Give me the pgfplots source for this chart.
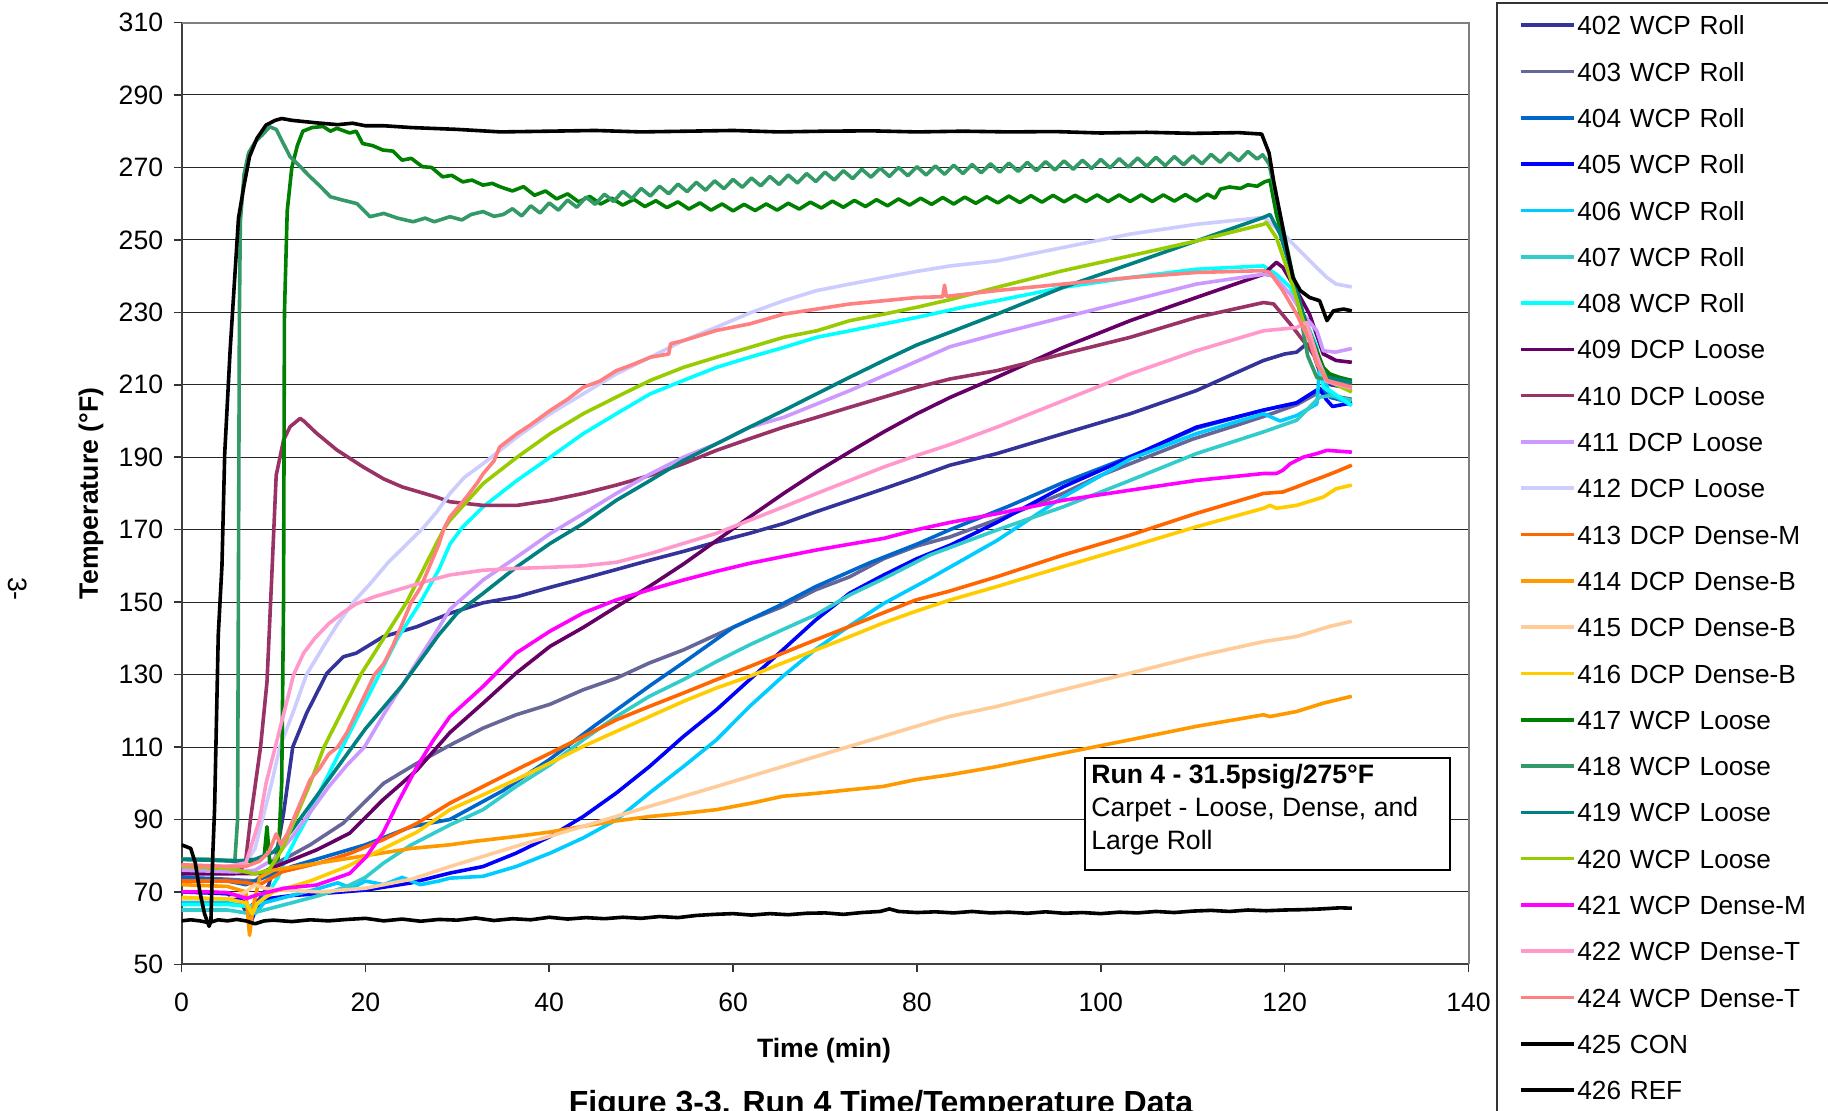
\documentclass[border=0pt]{standalone}
\usepackage{fontspec}
\setmainfont{Liberation Sans}
\usepackage{pgfplots}
\pgfplotsset{compat=1.18}
\newcommand\fnt{\fontsize{13.3bp}{16bp}\selectfont}
\newcommand\lfnt{\fontsize{13.1bp}{16bp}\selectfont}
\definecolor{c402}{HTML}{333399}
\definecolor{c403}{HTML}{666699}
\definecolor{c404}{HTML}{0066CC}
\definecolor{c405}{HTML}{0000FF}
\definecolor{c406}{HTML}{00CCFF}
\definecolor{c407}{HTML}{33CCCC}
\definecolor{c408}{HTML}{00FFFF}
\definecolor{c409}{HTML}{660066}
\definecolor{c410}{HTML}{993366}
\definecolor{c411}{HTML}{CC99FF}
\definecolor{c412}{HTML}{CCCCFF}
\definecolor{c413}{HTML}{FF6600}
\definecolor{c414}{HTML}{FF9900}
\definecolor{c415}{HTML}{FFCC99}
\definecolor{c416}{HTML}{FFCC00}
\definecolor{c417}{HTML}{008000}
\definecolor{c418}{HTML}{339966}
\definecolor{c419}{HTML}{008080}
\definecolor{c420}{HTML}{99CC00}
\definecolor{c421}{HTML}{FF00FF}
\definecolor{c422}{HTML}{FF99CC}
\definecolor{c424}{HTML}{FF8080}
\begin{document}
\begin{tikzpicture}[x=0.5bp,y=-0.5bp]
\useasboundingbox (0,0) rectangle (1828,1110);
\begin{axis}[
  at={(90.75bp,-482.15bp)}, anchor=south west,
  scale only axis, width=643.5bp, height=470.9bp,
  xmin=0, xmax=140, ymin=50, ymax=310,
  xtick={0,20,...,140}, ytick={50,70,...,310},
  tick align=outside, major tick length=4bp,
  xtick pos=bottom, ytick pos=left,
  tick style={black!80, line width=0.8bp},
  axis x line*=bottom, axis y line*=left,
  axis line style={-, black!75, line width=1bp},
  ymajorgrids, grid style={black!85, line width=0.5bp},
  /pgf/number format/assume math mode=true,
  ticklabel style={font=\fnt},
  yticklabel style={anchor=east, inner sep=0pt, xshift=-5bp},
  xticklabel style={anchor=north, inner sep=0pt, text height=9.5bp, text depth=0pt, yshift=-10bp},
  xlabel={\bfseries Time (min)}, ylabel={\bfseries Temperature (°F)},
  label style={font=\fnt},
  xlabel style={at={(axis description cs:0.4992,-0.0915)}, anchor=center},
  ylabel style={at={(axis description cs:-0.0703,0.5)}, anchor=center},
  no markers,
  every axis plot/.append style={line width=1.8bp, line join=round},
  extra description/.code={\draw[gray, line width=1bp] (rel axis cs:0,1) -- (rel axis cs:1,1) -- (rel axis cs:1,0);},
  legend style={at={(1.02137,1.02177)}, anchor=north west, draw=black!80, line width=0.75bp, fill=white,
    inner xsep=11bp, inner ysep=6.45bp, font=\lfnt, cells={anchor=west}, row sep=13.55bp,
    nodes={inner sep=0pt, text height=9.6bp, text depth=0pt, text width=150bp, align=left},
    /tikz/every odd column/.style={column sep=1bp}},
  legend image code/.code={\draw[#1, line width=1.8bp] (0bp,0bp) -- (26.5bp,0bp);},
]
% 402
\addplot[c402] coordinates {(0,70)(3,70)(5,69.5)(6.5,67)(7,64.5)(7.5,66)(8.5,68)(9.5,72)(10.3,80)(11.1,91.7)(12.1,110)(13.6,119.3)(15.8,130.3)(17.6,134.9)(19,135.9)(21.9,140.4)(25.6,143.2)(29.2,146.9)(32.8,149.8)(36.5,151.5)(40,154)(43.7,156.5)(47.3,159)(51,161.6)(54.6,164)(58.2,166.6)(61.8,169)(65.5,171.7)(69.1,175)(72.7,178.1)(76.4,181.3)(80,184.5)(83.6,187.8)(88.7,191)(95.9,196.5)(103.2,202)(110.4,208.4)(114,212.5)(117.7,216.7)(120,218.5)(121.3,219)(122.4,221.3)(123.2,218)(124,212)(125,210)(127.3,209)};
\addlegendentry{402 WCP Roll}
% 403
\addplot[c403] coordinates {(0,74)(5,73.5)(8,73)(10.4,78)(14,83)(17.6,89)(20,95)(22,100)(25.6,105.5)(29.2,110.5)(32.8,115.2)(36.4,118.9)(40.1,121.8)(43.7,125.8)(47.3,129)(50.9,133.2)(54.6,136.8)(58.2,141)(61.8,145.1)(65.4,148.8)(69,153.4)(72.7,157)(76.4,162)(80,165.5)(83.6,168)(90,174)(95.9,180)(100,185)(105,190)(110,195)(115,199)(118,201.5)(121.3,204.5)(123.8,208)(125,207)(127.3,206)};
\addlegendentry{403 WCP Roll}
% 404
\addplot[c404] coordinates {(0,74)(4,73.5)(7,72)(9,74)(12,77)(16,80)(20,83)(25,88)(29.2,90)(35,98)(40,106.5)(45,116)(51,127)(55,134)(60,143)(65,149)(69,154.3)(75,161)(80,166)(83.6,170)(90,176.5)(95.9,183)(100,187)(105,192)(110.4,198)(117.7,203)(121.3,205)(123.8,209)(125,206.5)(127.3,205)};
\addlegendentry{404 WCP Roll}
% 405
\addplot[c405] coordinates {(0,70)(5,69.5)(7,67)(7.6,62)(8.2,66)(9,68)(12,69)(15,69.5)(20,70.5)(25,72.5)(29.2,75.2)(32.8,77)(36.4,80.7)(40.1,85.3)(43.7,90.8)(47.3,97.3)(50.9,104.6)(54.6,112.9)(58.2,120.3)(61.8,128.6)(65.4,136.8)(69,145.1)(72.7,152.5)(76.4,157.5)(80,162)(83.6,165.7)(88.7,172)(95.9,181.8)(103.2,190)(110.4,198.3)(117.7,203)(121.3,205)(123.8,209)(124.5,206)(125.2,204)(127.3,205)};
\addlegendentry{405 WCP Roll}
% 406
\addplot[c406] coordinates {(0,67)(5,67)(7,66)(8,64)(9,67)(12,69)(15,71)(17,72.5)(18.5,71)(20,73)(22,72)(24,74)(26,72)(28,73)(29.2,73.8)(32.8,74.3)(36.4,77)(40.1,80.7)(43.7,84.9)(47.3,89.9)(50.9,97.3)(54.6,104.6)(58.2,112)(61.8,121.2)(65.4,129.5)(69,137)(72.7,143.5)(76.3,149.5)(81.4,156.5)(88.7,167)(95.9,179)(103.2,189.5)(110.4,196.5)(117.7,202)(119.5,200)(121.3,201.5)(123.5,204.7)(123.8,214.8)(124.9,207.6)(127.3,204.3)};
\addlegendentry{406 WCP Roll}
% 407
\addplot[c407] coordinates {(0,65)(5,65)(7.5,64)(9,65)(12,67)(15,69)(18,71.5)(20,74)(22,78)(25,83)(29.2,88.5)(32.8,92.7)(36.4,99.1)(40.1,105.1)(43.7,112)(47.3,118.4)(50.9,124)(54.6,128.6)(58.2,133.6)(61.8,138.2)(65.4,142.4)(69,146.5)(72.7,152)(76.4,156.5)(81.4,163)(88.7,169.9)(95.9,176.3)(103.2,183.6)(110.4,191)(117.7,197)(121.3,200.2)(123.8,206.6)(125,207)(127.3,205.7)};
\addlegendentry{407 WCP Roll}
% 408
\addplot[c408] coordinates {(0,66.5)(5,66.5)(7.5,66)(8.5,67)(9.5,70)(10.5,74)(11.5,80)(12.5,85)(13.6,90)(15.5,100)(17.5,110)(19.5,120)(21.5,130)(23.5,140)(26,150)(28,159)(29.2,166)(30.5,170.5)(32.8,176.3)(36.5,183.6)(40.1,190)(43.7,196.5)(47.3,202)(51,207.5)(54.6,211.2)(58.2,214.8)(61.8,217.6)(65.5,220.3)(69.1,223.1)(72.7,224.9)(76.4,226.8)(80,228.6)(85,231.4)(88.7,233.2)(95.9,236.9)(103.2,239.6)(110.4,241.9)(117.7,242.8)(119.1,240.5)(120.6,236.9)(122,229.5)(123.5,220.3)(124.2,209.3)(124.9,208.4)(127.3,204.3)};
\addlegendentry{408 WCP Roll}
% 409
\addplot[c409] coordinates {(0,75)(5,75)(8.5,75.1)(11.1,77.9)(14.7,81.6)(18.3,86.2)(21.9,95.4)(25.6,103.6)(29.2,114)(32.8,122.1)(36.4,130.4)(40.1,137.8)(43.7,143)(47.3,148.7)(51,154.5)(54.6,160.5)(58.2,167)(61.8,173.5)(65.5,180)(69.1,186)(72.7,191.5)(76.4,197)(80,202)(83.6,206.5)(88.7,212.1)(95.9,220.3)(103.2,227.7)(110.4,234.1)(117.7,240.5)(119.1,243.8)(119.8,242.4)(121.3,236)(122.7,229.5)(124.2,218.5)(125.6,216.7)(127.3,216.2)};
\addlegendentry{409 DCP Loose}
% 410
\addplot[c410] coordinates {(0,76)(6.5,76)(7,79)(7.5,90)(8.6,110)(9.3,128)(9.8,156)(10.3,185)(11.1,194.7)(11.8,198.4)(12.9,200.7)(13.3,200)(14.7,196.6)(16.9,192)(19.7,187.4)(22,184)(24,181.8)(27.6,179.1)(29.2,177.7)(32.8,176.7)(36.5,176.7)(40.1,178.1)(43.7,180)(47.3,182.3)(51,185)(54.6,188.2)(58.2,191.9)(61.8,195.1)(65.5,198.3)(69.1,201)(72.7,203.8)(76.4,206.6)(80,209.3)(83.6,211.6)(88.7,213.9)(95.9,218.5)(103.2,223.1)(110.4,228.6)(117.7,232.7)(118.8,232.3)(120.6,226.8)(122,222.2)(123.5,217.6)(124.6,213)(127.3,210.2)};
\addlegendentry{410 DCP Loose}
% 411
\addplot[c411] coordinates {(0,76)(6,75.5)(8,76)(10,79)(12,85)(14,92)(16,99)(18,105)(19.9,110)(22,119)(24,127)(26,135)(28,143)(29.2,148)(32.8,156.1)(36.5,162.5)(40.1,168.9)(43.7,174.4)(47.3,180)(51,185.4)(54.6,190)(58.2,193.7)(61.8,198.3)(65.5,201)(69.1,204.7)(72.7,208.4)(76.4,212.5)(80,216.5)(83.6,220.5)(88.7,224)(95.9,228.6)(103.2,233.2)(110.4,237.8)(117.7,240.5)(118.8,240)(120.6,235)(122,229.5)(123.5,224.9)(124.2,219.4)(125.5,219)(127.3,220)};
\addlegendentry{411 DCP Loose}
% 412
\addplot[c412] coordinates {(0,77)(5,77)(7,78)(8,82)(8.8,90)(9.8,100)(10.7,110)(12.2,120)(13.6,130)(15.5,138)(17,144)(18.7,150)(20.5,155)(22.5,161)(24.5,166)(26.3,170.5)(27.8,175)(29.2,180)(30.8,184.5)(32.8,188.2)(36.5,195.6)(40.1,202)(43.7,207.5)(47.3,213)(51,217.6)(54.6,222.2)(58.2,225.9)(61.8,229.8)(65.5,233.2)(69.1,236)(72.7,237.8)(76.4,239.6)(80,241.3)(83.6,242.8)(88.7,244.2)(95.9,247.9)(103.2,251.6)(110.4,254.3)(117.7,256.2)(119.5,252.5)(121.3,247.9)(123.1,243.3)(124.6,239.6)(125.6,237.8)(127.3,237)};
\addlegendentry{412 DCP Loose}
% 413
\addplot[c413] coordinates {(0,73)(5,73)(7,72.5)(8.5,72)(11,75.6)(15,78)(18.3,80.6)(22,84.5)(25.6,88.9)(29.2,94.5)(32.8,99.1)(36.4,103.7)(40.1,108.3)(43.7,112.9)(47.3,117.5)(50.9,121.2)(54.6,124.9)(58.2,128.6)(61.8,132.2)(65.4,135.9)(69,139.6)(72.7,143.3)(76.3,147)(79.9,150.6)(83.5,153)(88.7,157)(95.9,163)(103.2,168.5)(110.4,174.5)(117.7,180)(119.8,180.4)(121.3,181.8)(122.7,183.2)(124.2,184.6)(125.6,186)(127.3,187.8)};
\addlegendentry{413 DCP Dense-M}
% 414
\addplot[c414] coordinates {(0,72)(5,71.5)(7,70)(7.4,58)(7.8,66)(8.5,74)(10,76)(15,78)(20,80)(25,82)(29.2,83)(32,84)(36.4,85.3)(40,86.5)(43.7,88.1)(47,89.5)(50.9,90.8)(55,91.8)(58.2,92.7)(62,94.5)(65.4,96.4)(69,97.2)(72.7,98.2)(76.3,99.1)(79.9,101)(83.5,102.3)(88.7,104.6)(95.9,108.3)(103.2,112)(110.4,115.7)(117.7,118.9)(118.4,118.4)(121.3,119.8)(124.2,122.1)(127.3,124)};
\addlegendentry{414 DCP Dense-B}
% 415
\addplot[c415] coordinates {(0,68)(5,68)(7,70)(8,72)(9,71)(11,70.5)(15,70)(20,71)(25,73.5)(29.2,77)(36.4,82.6)(43.7,88.1)(50.9,93.6)(58.2,99.1)(65.4,104.6)(72.7,110.2)(79.9,115.7)(83.5,118.4)(88.7,121.2)(95.9,125.8)(103.2,130.4)(110.4,135)(117.7,139.1)(121.3,140.5)(124.9,143.3)(127.3,144.7)};
\addlegendentry{415 DCP Dense-B}
% 416
\addplot[c416] coordinates {(0,68.5)(5,68)(7,67)(7.7,64)(8.3,67)(10,70)(14,73)(18,77)(22,82)(25.6,86.5)(29.2,92.7)(32.8,96.8)(36.4,101)(40.1,105.6)(43.7,110.2)(47.3,114.3)(50.9,118.4)(54.6,122.6)(58.2,126.3)(61.8,129.5)(65.4,133.2)(69,136.8)(72.7,140.5)(76.3,144.2)(79.9,147.5)(83.5,150.5)(88.7,154.3)(95.9,159.8)(103.2,165.3)(110.4,170.8)(117.7,175.9)(118.4,176.7)(119.1,175.9)(121.3,176.7)(124.2,179)(125.6,181.3)(127.3,182.3)};
\addlegendentry{416 DCP Dense-B}
% 417
\addplot[c417] coordinates {(0,79)(8,78.5)(9,80)(9.3,88)(9.6,78)(10.5,79)(10.9,100)(11.1,150)(11.2,230)(11.5,258)(12,270)(12.6,276)(13.2,280)(14.2,281)(15.4,281.3)(16.2,280)(16.9,280.8)(18.3,279.5)(19,280)(19.7,276.6)(20.8,276)(21.9,274.8)(23,274.5)(24,272)(25,272.5)(26.2,270.2)(27.2,270)(28.4,267.4)(29.4,267.8)(30.6,266)(31.6,266.5)(32.8,265.1)(33.8,265.6)(34.6,264.7)
(36.0,263.5)(37.2,264.7)(38.4,262.3)(39.6,263.5)(40.8,261.3)(42.0,262.7)(43.2,260.5)(44.4,262.0)(45.6,259.9)(46.8,261.5)(48.0,259.6)(49.2,261.2)(50.4,259.2)(51.6,260.8)(52.8,258.9)(54.0,260.5)(55.2,258.5)(56.4,260.2)(57.6,258.2)(58.8,259.9)(60.0,258.0)(61.2,259.8)(62.4,258.1)(63.6,259.9)(64.8,258.2)(66.0,260.1)(67.2,258.5)(68.4,260.4)(69.6,258.8)(70.8,260.7)(72.0,259.0)(73.2,260.9)(74.4,259.2)(75.6,261.1)(76.8,259.4)(78.0,261.3)(79.2,259.6)(80.4,261.5)(81.6,259.8)(82.8,261.7)(84.0,259.9)(85.2,261.8)(86.4,260.1)(87.6,261.9)(88.8,260.2)(90.0,262.1)(91.2,260.3)(92.4,262.2)(93.6,260.4)(94.8,262.3)(96.0,260.5)(97.2,262.3)(98.4,260.6)(99.6,262.4)(100.8,260.6)(102.0,262.4)(103.2,260.6)(104.4,262.4)(105.6,260.6)(106.8,262.4)(108.0,260.7)(109.2,262.5)(110.4,260.7)(111.6,262.6)(112.4,261.5)(113.0,264.0)(114.0,264.6)(115.2,264.2)(116.0,265.2)(117.0,264.8)(117.8,266.0)(118.4,266.5)(119.1,257)(120.6,243)(122,229.5)(123.1,222)(124.2,214.8)(124.9,213)(126,212)(127.3,211.2)};
\addlegendentry{417 WCP Loose}
% 418
\addplot[c418] coordinates {(0,79)(3,79)(5.8,78.5)(6.1,90)(6.2,160)(6.3,230)(6.4,255)(6.8,268)(7.3,274)(8,277)(8.8,279)(9.6,281.2)(10.3,280.5)(10.8,278)(11.8,273)(13,270)(14,267.4)(15,265)(16.2,261.9)(17.5,261)(19.1,260)(20.5,256.4)(22,257.3)(23.5,256)(25.2,255)(26.5,256)(27.5,255)(29.2,256.4)(30.5,255.5)(31.5,257)(32.8,257.8)(34,256.5)(35,257)
(36,258.6)(37,256.6)(38,259.4)(39,257.4)(40,260.2)(41,258.2)(42,261)(43,259)(44,261.8)(45,259.8)(46,262.6)(47,260.6)(48,263.4)(49,261.4)(50,264.2)(51,262.1)(52,264.8)(53,262.7)(54,265.4)(55,263.3)(56,265.9)(57,263.7)(58,266.3)(59,264.1)(60,266.7)(61,264.5)(62,267.1)(63,264.9)(64,267.5)(65,265.3)(66,267.9)(67,265.7)(68,268.3)(69,266.1)(70,268.7)(71,266.5)(72,269.1)(73,266.9)(74,269.5)(75,267.3)(76,269.8)(77,267.5)(78,270)(79,267.7)(80,270.2)(81,267.9)(82,270.4)(83,268.1)(84,270.6)(85,268.3)(86,270.8)(87,268.5)(88,271)(89,268.7)(90,271.2)(91,268.9)(92,271.4)(93,269.1)(94,271.6)(95,269.3)(96,271.8)(97,269.5)(98,272)(99,269.7)(100,272.2)(101,269.9)(102,272.4)(103,270.1)(104,272.6)(105,270.3)(106,272.8)(107,270.5)(108,273)(109,270.7)(110,273.2)(111,271)(112,273.6)(113,271.4)(114,274)(115,271.8)(116,274.4)(117,272.3)(117.6,273.5)(118.3,271)(118.8,265)(119.5,257)(120.5,245)(121.5,232)(122.5,218)(123.5,212)(124.5,211.5)(125.5,211)(127.3,210.5)};
\addlegendentry{418 WCP Loose}
% 419
\addplot[c419] coordinates {(0,79)(6,78.5)(8,79)(10,81)(12,87)(14,94)(16,101)(18,108)(20,115)(22,121)(24,127)(26,134)(28,141)(30,147)(32.8,152.4)(36.5,159.8)(40.1,166.2)(43.7,171.7)(47.3,178.1)(51,183.6)(54.6,189.1)(58.2,193.7)(61.8,198.3)(65.5,202.9)(69.1,207.5)(72.7,212.1)(76.4,216.7)(80,221)(83.6,224.5)(88.7,229.5)(95.9,236.9)(103.2,243.3)(110.4,249.7)(117.7,256.2)(118.4,257)(119.5,251.6)(120.6,242.4)(122,229.5)(123.5,217.6)(124.6,212.1)(127.3,210.7)};
\addlegendentry{419 WCP Loose}
% 420
\addplot[c420] coordinates {(0,77)(5,76.5)(8,75)(9.5,76)(11,82)(12,88)(14,100)(15.5,110)(17.5,120)(19.5,130)(22,140)(24.5,150)(26.5,160)(28.5,170)(29.2,172.6)(32.8,182.7)(36.5,190)(40.1,196.5)(43.7,202)(47.3,206.6)(51,211.2)(54.6,214.8)(58.2,217.6)(61.8,220.3)(65.5,223.1)(69.1,224.9)(72.7,227.7)(76.4,229.5)(80,231.4)(83.6,233.5)(88.7,236.9)(95.9,241.5)(103.2,245.6)(110.4,249.7)(117.7,254.3)(118,254.8)(119.1,250.6)(120.6,239.6)(122,227.7)(123.5,217.6)(124.6,211.2)(127.3,208)};
\addlegendentry{420 WCP Loose}
% 421
\addplot[c421] coordinates {(0,70)(3,70)(5,69.8)(7.1,68.2)(8,69)(11.1,71)(14.7,71.9)(18.3,75.1)(20.1,79.7)(21.9,86.2)(23.7,95.4)(25.6,104.5)(27.4,111.9)(29.2,118.4)(32.8,126.7)(36.4,135.9)(40.1,142)(43.7,147)(47.3,150.6)(50.9,153.4)(54.6,156.1)(58.2,158.5)(61.8,160.7)(65.5,162.6)(69.1,164.4)(72.7,166)(76.4,167.6)(80,170)(83.6,172)(88.7,174.4)(95.9,178.1)(103.2,180.9)(110.4,183.6)(117.7,185.5)(119.1,185.5)(119.8,186.4)(120.6,188.2)(122,190)(123.5,191)(124.6,191.9)(127.3,191.4)};
\addlegendentry{421 WCP Dense-M}
% 422
\addplot[c422] coordinates {(0,77.5)(5,77)(7,78)(8.5,90)(9.2,100)(10.2,110)(11.2,120)(12.2,130)(13.3,136)(14.5,140)(16,144)(17.5,147)(19,149.5)(21,151.5)(23,153)(25,154.5)(27,156)(29.2,157.5)(32.8,158.8)(36.5,159.3)(40,159.6)(43.7,160)(47.3,161)(51,163.4)(54.6,166.2)(58.2,169)(61.8,172.6)(65.5,176.3)(69.1,180)(72.7,183.6)(76.4,187.3)(80,190.5)(83.6,193.5)(88.7,198.3)(95.9,205.6)(103.2,213)(110.4,219.4)(117.7,224.9)(121.3,225.8)(122.4,227.2)(123.5,218)(124.5,211)(127.3,209)};
\addlegendentry{422 WCP Dense-T}
% 424
\addplot[c424] coordinates {(0,77.5)(5,77)(7,77)(8.5,78.5)(9.5,81)(10.3,86)(10.8,83)(11.5,86)(12.5,92)(14,101)(15,104)(16,108)(17,110)(18,114)(19.5,122)(21,130)(22,133)(23,138)(24,144)(25,150)(26,154)(27,160)(28,166)(28.5,170)(29.2,173.5)(31,179)(32.2,183)(32.8,185.4)(34,189)(34.6,192.8)(36.5,196.5)(38,199)(40.1,202.9)(42,206)(43.7,209.3)(45.5,211)(47.3,213.9)(49,215.5)(51,217.6)(53,218.5)(53.2,221.3)(54.6,222.2)(58.2,225)(61.8,226.8)(65.5,229.5)(69.1,230.9)(72.7,232.3)(76.4,233.2)(80,234.1)(82.8,234.3)(83,237.5)(83.2,234.4)(88.7,236)(95.9,237.8)(103.2,239.6)(110.4,241)(117.7,241.5)(118.4,241)(119.8,236)(121.3,229.5)(122.7,222.2)(123.5,215.8)(124.6,211.2)(127.3,209.3)};
\addlegendentry{424 WCP Dense-T}
% 425
\addplot[black] coordinates {(0,83)(0.5,82.5)(1,82)(1.5,78)(2,70)(2.5,64)(3,60.5)(3.2,62)(3.4,80)(3.6,93)(4,141)(4.4,160)(4.7,191)(5.3,220)(5.8,240)(6.2,256)(6.8,265)(7.4,273)(8.2,278)(9.2,281.7)(10.2,283)(10.9,283.5)(12,283)(14.7,282.3)(17,281.8)(18.6,282.2)(20,281.5)(22,281.5)(25,281)(30,280.5)(34.7,279.8)(40,280)(45,280.2)(50,279.8)(55,280)(60,280.2)(65,279.8)(70,280)(75,280.1)(80,279.8)(85,280)(90,279.8)(95,279.9)(100,279.5)(105,279.7)(110,279.4)(115,279.6)(117.5,279.2)(118.3,274)(118.8,266.2)(119.5,257.1)(120.2,248)(120.9,239.6)(121.7,236)(122.7,234.1)(123.8,233.2)(124.6,227.7)(125.3,230.4)(126.4,230.9)(127.3,230.4)};
\addlegendentry{425 CON}
% 426
\addplot[black] coordinates {(0,62)(1,62.3)(2,62)(3,61.5)(4,62.3)(5,62)(6,62.4)(7,62)(8,61.2)(9,62)(10,62.2)(12,61.8)(14,62.3)(16,62)(18,62.4)(20,62.7)(22,62)(24,62.5)(26,61.9)(28,62.4)(30,62.2)(32,62.8)(34,62.1)(36,62.6)(38,62.3)(40,63)(42,62.5)(44,62.9)(46,62.6)(48,63)(50,62.7)(52,63.2)(54,62.9)(56,63.5)(58,63.8)(60,64)(62,63.6)(64,64)(66,63.7)(68,64.1)(70,64.2)(72,63.8)(74,64.3)(76,64.6)(77,65.3)(78,64.6)(80,64.3)(82,64.5)(84,64.2)(86,64.6)(88,64.2)(90,64.4)(92,64.1)(94,64.5)(96,64.1)(98,64.3)(100,64)(102,64.4)(104,64.2)(106,64.6)(108,64.3)(110,64.7)(112,64.9)(114,64.6)(116,65)(118,64.8)(120,65)(122,65.1)(124,65.3)(126,65.6)(127.3,65.5)};
\addlegendentry{426 REF}
\end{axis}
% annotation box
\draw[black, line width=1bp, fill=white] (1085,757.7) rectangle (1450,870);
\node[anchor=base west, inner sep=0pt, font=\fnt\bfseries] at (1091,783.3) {Run 4 - 31.5psig/275°F};
\node[anchor=base west, inner sep=0pt, font=\fnt] at (1091,816.7) {Carpet - Loose, Dense, and};
\node[anchor=base west, inner sep=0pt, font=\fnt] at (1091,849.3) {Large Roll};
% caption and page number
\node[anchor=base, inner sep=0pt, font=\fontsize{16bp}{19bp}\selectfont\bfseries] at (881,1113) {Figure 3-3. Run 4 Time/Temperature Data};
\node[rotate=-90, inner sep=0pt, font=\fnt] at (17.5,589) {3-};
\end{tikzpicture}
\end{document}
